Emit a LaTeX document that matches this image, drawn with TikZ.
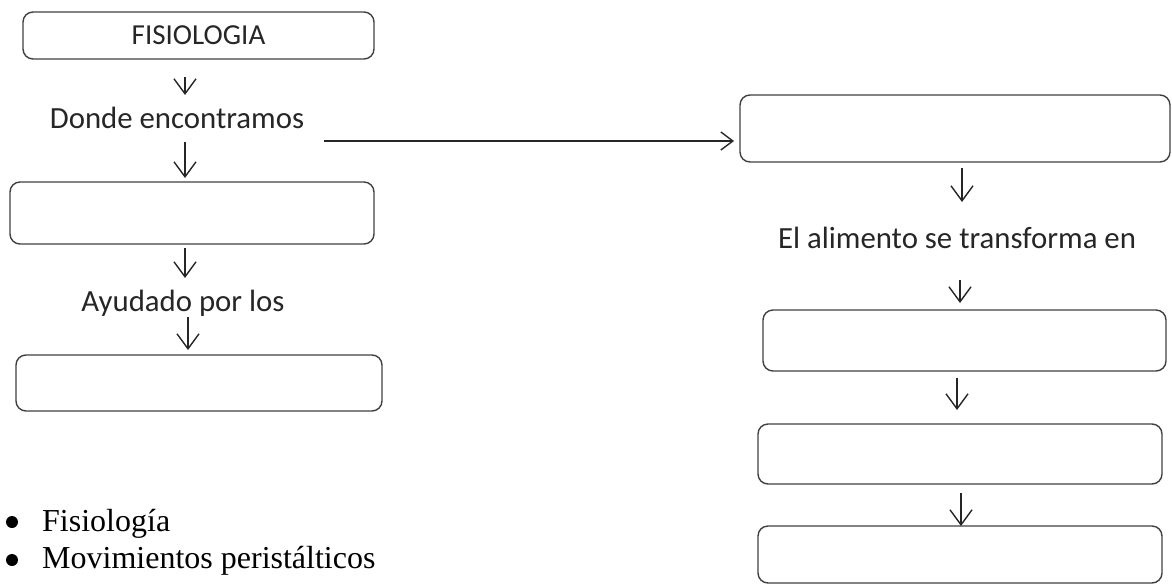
\documentclass[tikz,border=0pt]{standalone}
\usepackage{fontspec}
\setmainfont{Liberation Serif}
\newfontfamily\calibri{Carlito}
\usetikzlibrary{arrows.meta}

\begin{document}
\begin{tikzpicture}[x=1pt, y=-1pt,
    caja/.style={draw=black!75, line width=1.4pt, rounded corners=10pt, inner sep=0pt, outer sep=0pt},
    paso/.style={font=\calibri\fontsize{30.8}{32}\selectfont, text=black!85, inner sep=0pt, outer sep=0pt, text height=20pt, text depth=6pt},
    arr/.style={draw=black!85, line width=1.4pt, -{Straight Barb[length=15pt,width=22pt]}},
    vineta/.style={circle, fill=black, inner sep=0pt, minimum size=12pt},
    lista/.style={font=\fontsize{32}{37}\selectfont, inner sep=0pt, anchor=base west}]
    \useasboundingbox (0,0) rectangle (1172,584);

    % left column
    \node[caja, minimum width=351pt, minimum height=47pt, font=\calibri\fontsize{29}{30}\selectfont, text=black!85] (Fisiologia) at (198.5,35.5) {FISIOLOGIA};
    \node[paso] (Donde) at (177,121) {Donde encontramos};
    \node[caja, minimum width=364pt, minimum height=62pt] (Organos) at (192,213) {};
    \node[paso] (Ayudado) at (183,304) {Ayudado por los};
    \node[caja, minimum width=366pt, minimum height=56pt] (Ayuda) at (199,383) {};

    % right column
    \node[caja, minimum width=430pt, minimum height=67pt] (Digestion) at (955,128.5) {};
    \node[paso] (Alimento) at (957,241) {El alimento se transforma en};
    \node[caja, minimum width=403pt, minimum height=61pt] (ProductoA) at (964.5,340.5) {};
    \node[caja, minimum width=404pt, minimum height=60pt] (ProductoB) at (960,454) {};
    \node[caja, minimum width=404pt, minimum height=57pt] (ProductoC) at (960,554.5) {};

    % bullet list
    \node[vineta] (DotA) at (12,522) {};
    \node[lista] (ItemA) at (42,531) {Fisiología};
    \node[vineta] (DotB) at (12,560) {};
    \node[lista] (ItemB) at (42,568) {Movimientos peristálticos};

    \draw[arr] ([xshift=-13.5pt,yshift=-18pt]Fisiologia.south) -- ([xshift=8pt,yshift=13pt]Donde.north);
    \draw[arr] ([xshift=8pt,yshift=-8pt]Donde.south) -- ([xshift=-7pt,yshift=4pt]Organos.north);
    \draw[arr] ([xshift=-7pt,yshift=-4pt]Organos.south) -- ([xshift=2pt,yshift=13pt]Ayudado.north);
    \draw[arr] ([xshift=5pt]Ayudado.south) -- ([xshift=-11pt,yshift=5pt]Ayuda.north);
    \draw[arr, -{Straight Barb[length=12pt,width=18pt]}] ([xshift=20pt,yshift=-7pt]Donde.south east) -- ([xshift=-6pt,yshift=-12.5pt]Digestion.west);
    \draw[arr] ([xshift=7pt,yshift=-6pt]Digestion.south) -- ([xshift=5pt,yshift=26pt]Alimento.north);
    \draw[arr] ([xshift=3pt,yshift=-26pt]Alimento.south) -- ([xshift=-4.5pt,yshift=7pt]ProductoA.north);
    \draw[arr] ([xshift=-7.5pt,yshift=-7pt]ProductoA.south) -- ([xshift=-3pt,yshift=14pt]ProductoB.north);
    \draw[arr] ([xshift=1pt,yshift=-9pt]ProductoB.south) -- ([xshift=1pt]ProductoC.north);
\end{tikzpicture}
\end{document}
